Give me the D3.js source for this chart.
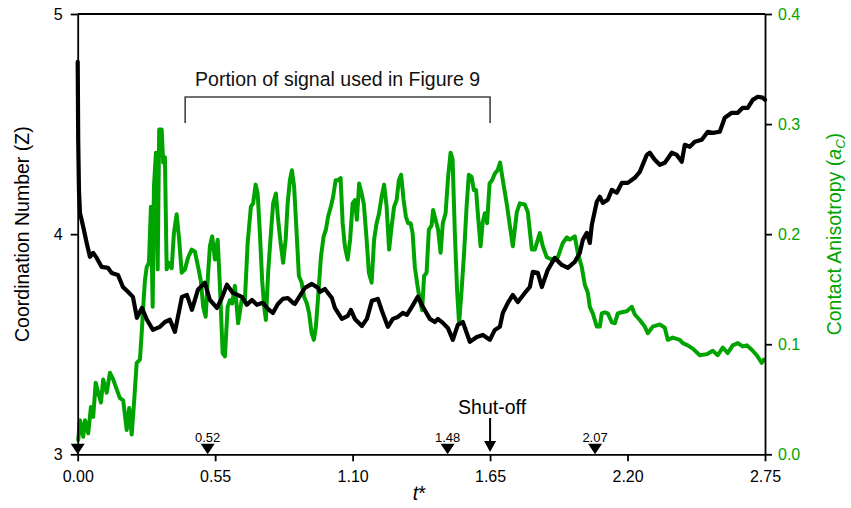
<!DOCTYPE html>
<html>
<head>
<meta charset="utf-8">
<script src="https://cdn.jsdelivr.net/npm/d3@7"></script>
<style>
  html, body { margin: 0; padding: 0; background: #fff; }
  svg { display: block; font-family: Arial, "Liberation Sans", sans-serif; }
</style>
</head>
<body>
<svg id="chart" width="851" height="508"></svg>
<script>
// Coordination number Z(t*) — black trace, left axis
const tZ = [0.000,0.002,0.005,0.009,0.022,0.036,0.049,0.062,0.076,0.096,0.121,0.136,0.161,0.181,0.201,0.221,0.237,0.257,0.277,0.301,
  0.329,0.349,0.369,0.389,0.417,0.437,0.457,0.481,0.509,0.529,0.557,0.577,0.597,0.621,0.657,0.677,0.697,0.717,0.741,0.761,
  0.781,0.801,0.821,0.841,0.861,0.869,0.889,0.909,0.937,0.961,0.969,0.989,1.017,1.029,1.057,1.081,1.093,1.109,1.137,1.157,
  1.177,1.201,1.217,1.241,1.261,1.281,1.301,1.317,1.337,1.361,1.381,1.409,1.429,1.441,1.461,1.481,1.501,1.521,1.541,1.569,
  1.597,1.621,1.649,1.669,1.689,1.701,1.721,1.741,1.761,1.789,1.809,1.821,1.841,
  1.857,1.881,1.909,1.937,1.961,1.989,2.009,2.021,2.037,2.049,2.057,2.077,2.089,2.101,2.121,2.137,2.157,2.177,2.201,2.229,
  2.249,2.277,2.289,2.309,2.329,2.349,2.377,2.397,2.417,2.429,2.449,2.469,2.497,2.521,2.541,2.569,2.589,2.617,2.641,2.661,
  2.681,2.701,2.721,2.741,2.750];
const zValues = [4.783,4.429,4.201,4.097,4.034,3.960,3.897,3.915,3.892,3.851,3.847,3.824,3.815,3.760,3.738,3.715,3.620,3.665,3.611,3.565,
  3.579,3.601,3.611,3.556,3.715,3.724,3.656,3.747,3.779,3.701,3.665,3.711,3.770,3.733,3.715,3.679,3.701,3.679,3.688,3.661,
  3.642,3.683,3.706,3.710,3.688,3.683,3.720,3.756,3.774,3.756,3.738,3.751,3.710,3.665,3.615,3.629,3.656,3.615,3.583,3.615,
  3.697,3.706,3.652,3.579,3.615,3.624,3.642,3.633,3.670,3.716,3.670,3.615,3.601,3.615,3.597,3.574,3.520,3.588,3.601,3.511,
  3.533,3.542,3.520,3.565,3.579,3.642,3.688,3.724,3.692,3.733,3.760,3.829,3.824,
  3.760,3.838,3.892,3.860,3.847,3.874,3.915,3.974,4.006,3.960,4.042,4.147,4.170,4.142,4.156,4.201,4.188,4.233,4.233,4.256,
  4.283,4.360,4.370,4.338,4.315,4.324,4.370,4.360,4.329,4.406,4.397,4.420,4.429,4.465,4.460,4.465,4.529,4.551,4.551,4.574,
  4.574,4.610,4.624,4.620,4.610];

// Contact anisotropy a_C(t*) — green trace, right axis
const tA = [0.002,0.009,0.022,0.029,0.042,0.053,0.062,0.072,0.082,0.093,0.102,0.116,0.129,0.142,0.156,0.169,0.182,0.196,0.206,0.216,
  0.226,0.236,0.249,0.256,0.262,0.269,0.276,0.285,0.293,0.300,0.305,0.313,0.320,0.326,0.336,0.342,0.349,0.356,0.365,0.376,
  0.385,0.396,0.406,0.416,0.429,0.442,0.456,0.469,0.482,0.493,0.502,0.512,0.522,0.529,0.538,0.549,0.560,0.569,0.580,0.589,
  0.600,0.609,0.618,0.629,0.642,0.656,0.669,0.680,0.693,0.702,0.712,0.720,0.729,0.738,0.746,0.753,0.762,0.773,0.782,0.793,
  0.802,0.812,0.822,0.832,0.840,0.849,0.857,0.866,0.876,0.885,0.896,0.906,0.917,0.926,0.936,0.945,0.953,0.962,0.973,0.984,
  0.993,1.002,1.013,1.022,1.032,1.042,1.052,1.060,1.069,1.080,1.090,1.100,1.109,1.117,1.126,1.136,1.145,1.156,1.165,1.176,
  1.186,1.196,1.205,1.216,1.226,1.236,1.246,1.256,1.266,1.276,1.285,1.294,1.304,1.313,1.322,1.332,1.340,1.349,1.359,1.369,
  1.378,1.386,1.396,1.405,1.416,1.422,1.432,1.442,1.452,1.461,1.472,1.482,1.492,1.500,1.509,1.518,1.526,1.536,1.546,1.556,
  1.565,1.576,1.585,1.594,1.602,1.612,1.620,1.629,1.638,1.648,1.658,1.669,1.680,1.690,1.701,1.717,1.729,1.741,1.757,1.769,
  1.789,1.801,1.817,1.829,1.849,1.861,1.877,1.897,1.921,1.941,1.957,1.969,1.989,2.001,2.017,2.029,2.041,2.049,2.061,2.077,
  2.089,2.097,2.109,2.121,2.137,2.149,2.161,2.177,2.197,2.217,2.229,2.249,2.269,2.281,2.301,2.329,2.349,2.361,2.381,2.409,
  2.421,2.441,2.461,2.489,2.517,2.541,2.561,2.581,2.601,2.621,2.641,2.661,2.677,2.697,2.717,2.737,2.745];
const aValues = [0.013,0.031,0.016,0.031,0.019,0.043,0.034,0.065,0.056,0.047,0.068,0.056,0.074,0.068,0.059,0.051,0.049,0.022,0.042,0.018,
  0.049,0.083,0.086,0.110,0.134,0.158,0.170,0.174,0.225,0.134,0.243,0.274,0.168,0.295,0.295,0.265,0.270,0.168,0.174,0.169,
  0.201,0.218,0.195,0.165,0.168,0.179,0.186,0.184,0.170,0.157,0.134,0.125,0.165,0.189,0.198,0.177,0.195,0.153,0.092,0.089,
  0.134,0.140,0.137,0.153,0.119,0.140,0.140,0.192,0.225,0.228,0.245,0.237,0.201,0.158,0.134,0.122,0.165,0.201,0.228,0.237,
  0.213,0.192,0.174,0.195,0.228,0.249,0.258,0.243,0.201,0.162,0.156,0.143,0.137,0.128,0.110,0.104,0.116,0.143,0.179,0.198,
  0.204,0.216,0.225,0.234,0.249,0.249,0.251,0.210,0.189,0.177,0.195,0.228,0.231,0.213,0.246,0.237,0.227,0.195,0.165,0.156,
  0.195,0.210,0.218,0.234,0.245,0.225,0.186,0.207,0.225,0.231,0.249,0.254,0.231,0.216,0.210,0.210,0.201,0.170,0.154,0.140,
  0.131,0.162,0.165,0.204,0.208,0.222,0.213,0.204,0.183,0.210,0.219,0.252,0.274,0.268,0.201,0.149,0.119,0.149,0.183,0.225,
  0.254,0.252,0.240,0.240,0.216,0.189,0.210,0.219,0.210,0.246,0.249,0.255,0.258,0.265,0.249,0.227,0.208,0.189,0.220,0.228,
  0.227,0.220,0.186,0.186,0.201,0.189,0.179,0.177,0.179,0.192,0.197,0.195,0.198,0.183,0.170,0.154,0.147,0.134,0.128,0.116,
  0.116,0.128,0.129,0.128,0.120,0.119,0.128,0.129,0.130,0.134,0.127,0.122,0.116,0.110,0.116,0.118,0.115,0.104,0.106,0.104,
  0.101,0.099,0.096,0.090,0.091,0.094,0.090,0.097,0.092,0.099,0.101,0.098,0.099,0.095,0.090,0.083,0.086];

// Axis ticks
const xTicks = [0, 0.55, 1.10, 1.65, 2.20, 2.75];
const zTicks = [3, 4, 5];
const aTicks = [0, 0.1, 0.2, 0.3, 0.4];

// Event markers along the time axis
const markerTimes = [0.00, 0.52, 1.48, 2.07];
const markerLabels = ["", "0.52", "1.48", "2.07"];
const shutOffTime = 1.65;
const bracketRange = [0.43, 1.65];

const GREEN = "#00a400";
const plot = { left: 77.7, right: 765, top: 14, bottom: 454.3 };

const svg = d3.select("#chart");

const x = d3.scaleLinear().domain([0, 2.75]).range([plot.left, plot.right]);
const yZ = d3.scaleLinear().domain([3, 5]).range([plot.bottom, plot.top]);
const yA = d3.scaleLinear().domain([0, 0.4]).range([plot.bottom, plot.top]);

// Frame top edge
svg.append("line")
  .attr("x1", plot.left).attr("x2", plot.right)
  .attr("y1", plot.top).attr("y2", plot.top)
  .attr("stroke", "#000").attr("stroke-width", 1.8);

// Data traces
const aData = tA.map((t, i) => [t, aValues[i]]);
const zData = tZ.map((t, i) => [t, zValues[i]]);

svg.append("path")
  .datum(aData)
  .attr("fill", "none")
  .attr("stroke", GREEN)
  .attr("stroke-width", 4)
  .attr("stroke-linejoin", "round")
  .attr("stroke-linecap", "round")
  .attr("d", d3.line().x(d => x(d[0])).y(d => yA(d[1])));

svg.append("path")
  .datum(zData)
  .attr("fill", "none")
  .attr("stroke", "#000")
  .attr("stroke-width", 4.2)
  .attr("stroke-linejoin", "round")
  .attr("stroke-linecap", "round")
  .attr("d", d3.line().x(d => x(d[0])).y(d => yZ(d[1])));

// Axes
function styleAxis(g, color) {
  g.selectAll("path.domain").attr("stroke", "#000").attr("stroke-width", 1.8);
  g.selectAll(".tick line").attr("stroke", "#000").attr("stroke-width", 1.8);
  g.selectAll(".tick text").attr("fill", color).style("font-size", "16px")
    .style("font-family", "Arial, 'Liberation Sans', sans-serif");
}

const gx = svg.append("g")
  .attr("transform", `translate(0,${plot.bottom})`)
  .call(d3.axisBottom(x).tickValues(xTicks).tickFormat(d3.format(".2f"))
    .tickSize(7).tickSizeOuter(0).tickPadding(9));
styleAxis(gx, "#000");

const gl = svg.append("g")
  .attr("transform", `translate(${plot.left},0)`)
  .call(d3.axisLeft(yZ).tickValues(zTicks).tickFormat(d3.format("d"))
    .tickSize(7).tickSizeOuter(0).tickPadding(8));
styleAxis(gl, "#000");

const gr = svg.append("g")
  .attr("transform", `translate(${plot.right},0)`)
  .call(d3.axisRight(yA).tickValues(aTicks).tickFormat(d3.format(".1f"))
    .tickSize(7).tickSizeOuter(0).tickPadding(6));
styleAxis(gr, GREEN);

// Axis titles
svg.append("text")
  .attr("x", x(1.375) - 2).attr("y", 500)
  .attr("text-anchor", "middle")
  .style("font-size", "19.5px")
  .html('<tspan font-style="italic">t</tspan>*');

svg.append("text")
  .attr("transform", `translate(29,${(plot.top + plot.bottom) / 2}) rotate(-90)`)
  .attr("text-anchor", "middle")
  .style("font-size", "19.5px")
  .attr("fill", "#000")
  .text("Coordination Number (Z)");

svg.append("text")
  .attr("transform", `translate(841,${(plot.top + plot.bottom) / 2}) rotate(-90)`)
  .attr("text-anchor", "middle")
  .style("font-size", "19.5px")
  .attr("fill", GREEN)
  .html('Contact Anisotropy (<tspan font-style="italic">a</tspan><tspan font-size="13px" dy="4" font-style="italic">C</tspan><tspan dy="-4">)</tspan>');

// Triangle markers on the time axis
const tri = svg.append("g");
markerTimes.forEach((t, i) => {
  const cx = x(t);
  tri.append("path")
    .attr("d", `M${cx - 7},${plot.bottom - 10.5} L${cx + 7},${plot.bottom - 10.5} L${cx},${plot.bottom} Z`)
    .attr("fill", "#000");
  if (markerLabels[i]) {
    tri.append("text")
      .attr("x", cx).attr("y", plot.bottom - 12.8)
      .attr("text-anchor", "middle")
      .style("font-size", "13px")
      .attr("fill", "#000")
      .text(markerLabels[i]);
  }
});

// Shut-off arrow
const sx = x(shutOffTime);
svg.append("line")
  .attr("x1", sx).attr("x2", sx)
  .attr("y1", 418).attr("y2", 443)
  .attr("stroke", "#000").attr("stroke-width", 2);
svg.append("path")
  .attr("d", `M${sx - 6},${441} L${sx + 6},${441} L${sx},${452} Z`)
  .attr("fill", "#000");
svg.append("text")
  .attr("x", sx + 2).attr("y", 413.5)
  .attr("text-anchor", "middle")
  .style("font-size", "19.5px")
  .text("Shut-off");

// Bracket showing the portion of the signal used in Figure 9
const bx0 = x(bracketRange[0]), bx1 = x(bracketRange[1]);
svg.append("path")
  .attr("d", `M${bx0},123 L${bx0},97 L${bx1},97 L${bx1},123`)
  .attr("fill", "none")
  .attr("stroke", "#444")
  .attr("stroke-width", 1.6);
svg.append("text")
  .attr("x", (bx0 + bx1) / 2).attr("y", 86)
  .attr("text-anchor", "middle")
  .style("font-size", "19.5px")
  .attr("fill", "#111")
  .text("Portion of signal used in Figure 9");
</script>
</body>
</html>
